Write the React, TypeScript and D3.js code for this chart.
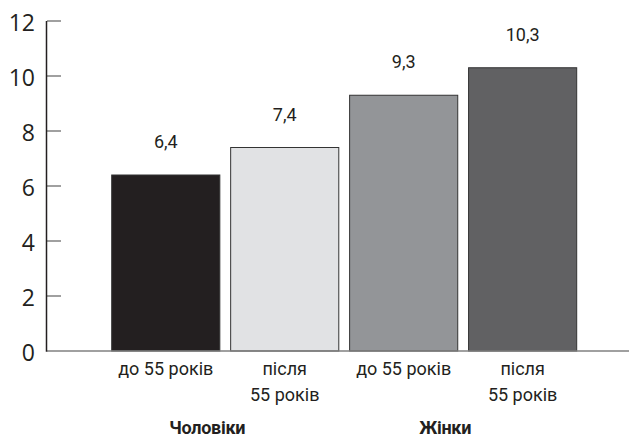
import { useEffect, useRef } from 'react'
import * as d3 from 'd3'

const barLabels: string[][] = [['до 55 років'], ['після', '55 років'], ['до 55 років'], ['після', '55 років']]
const values = [6.4, 7.4, 9.3, 10.3]
const barColors = ['#231f20', '#e1e2e4', '#939598', '#616163']
const groups = ['Чоловіки', 'Жінки']
const yTicks = [0, 2, 4, 6, 8, 10, 12]

export default function App() {
  const svgRef = useRef<SVGSVGElement | null>(null)

  useEffect(() => {
    if (!svgRef.current) return

    const width = 630
    const height = 437
    const font = 'Roboto, "Liberation Sans", sans-serif'

    d3.select(svgRef.current).selectAll('*').remove()
    const svg = d3.select(svgRef.current).attr('width', width).attr('height', height)

    const x = d3
      .scaleBand<number>()
      .domain(values.map((_, i) => i))
      .range([111.7, 576.7])
      .paddingInner(0.091)
      .paddingOuter(0)

    const y = d3.scaleLinear().domain([0, 12]).range([351, 21])

    // short grey ticks inside the axis
    svg
      .selectAll('.tick-mark')
      .data(yTicks.filter(t => t > 0))
      .enter()
      .append('line')
      .attr('x1', 47)
      .attr('x2', 61)
      .attr('y1', d => y(d))
      .attr('y2', d => y(d))
      .attr('stroke', '#808080')
      .attr('stroke-width', 1.5)

    // y labels
    svg
      .selectAll('.y-label')
      .data(yTicks)
      .enter()
      .append('text')
      .attr('x', 35)
      .attr('y', d => y(d) + 1)
      .attr('text-anchor', 'end')
      .attr('dominant-baseline', 'central')
      .style('font-family', '"Open Sans", "Noto Sans", sans-serif')
      .style('font-size', '23px')
      .attr('fill', '#231f20')
      .text(d => String(d))

    // bars
    svg
      .selectAll('.bar')
      .data(values)
      .enter()
      .append('rect')
      .attr('x', (_, i) => x(i)!)
      .attr('y', d => y(d))
      .attr('width', x.bandwidth())
      .attr('height', d => y(0) - y(d))
      .attr('fill', (_, i) => barColors[i])
      .attr('stroke', '#333')
      .attr('stroke-width', 1)

    // value labels
    svg
      .selectAll('.val')
      .data(values)
      .enter()
      .append('text')
      .attr('x', (_, i) => x(i)! + x.bandwidth() / 2)
      .attr('y', d => y(d) - 27)
      .attr('text-anchor', 'middle')
      .style('font-family', font)
      .style('font-size', '18px')
      .attr('fill', '#231f20')
      .text(d => d.toFixed(1).replace('.', ','))

    // baseline
    svg
      .append('line')
      .attr('x1', 47)
      .attr('x2', 629)
      .attr('y1', y(0))
      .attr('y2', y(0))
      .attr('stroke', '#808080')
      .attr('stroke-width', 1.5)

    // y axis line
    svg
      .append('line')
      .attr('x1', 46.5)
      .attr('x2', 46.5)
      .attr('y1', y(12))
      .attr('y2', y(0) + 0.75)
      .attr('stroke', '#231f20')
      .attr('stroke-width', 1.5)

    // category labels
    barLabels.forEach((lines, i) => {
      const t = svg
        .append('text')
        .attr('text-anchor', 'middle')
        .style('font-family', font)
        .style('font-size', '18px')
        .attr('fill', '#231f20')
      lines.forEach((line, j) => {
        t.append('tspan')
          .attr('x', x(i)! + x.bandwidth() / 2)
          .attr('y', 375 + j * 25.5)
          .text(line)
      })
    })

    // group labels
    groups.forEach((g, gi) => {
      const a = x(gi * 2)! + x.bandwidth() / 2
      const b = x(gi * 2 + 1)! + x.bandwidth() / 2
      svg
        .append('text')
        .attr('x', (a + b) / 2 - 18)
        .attr('y', 434)
        .attr('text-anchor', 'middle')
        .style('font-family', font)
        .style('font-size', '18px')
        .style('font-weight', 'bold')
        .style('letter-spacing', '-0.3px')
        .attr('fill', '#231f20')
        .text(g)
    })
  }, [])

  return (
    <div style={{ position: 'fixed', top: 0, left: 0, width: 630, height: 437, background: '#fff' }}>
      <svg ref={svgRef} style={{ display: 'block' }}></svg>
    </div>
  )
}
